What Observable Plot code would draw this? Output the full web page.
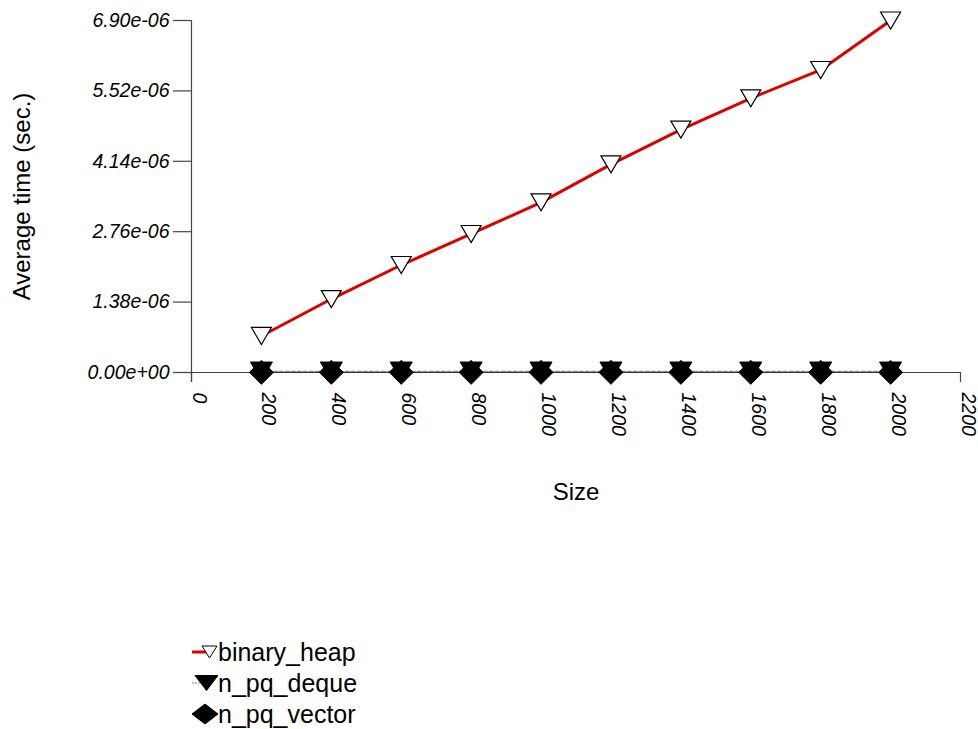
<!DOCTYPE html>
<html>
<head>
<meta charset="utf-8">
<script src="https://cdn.jsdelivr.net/npm/d3@7"></script>
<script src="https://cdn.jsdelivr.net/npm/@observablehq/plot@0.6"></script>
<style>
  html, body { margin: 0; padding: 0; background: #fff; }
  #wrap { position: relative; width: 978px; height: 729px; font-family: "Liberation Sans", Arial, Helvetica, sans-serif; }
  #legend { position: absolute; left: 190px; top: 636px; font-size: 25px; line-height: 32px; color: #000; }
  .item { display: flex; align-items: center; height: 31px; }
  .item svg { display: block; }
</style>
</head>
<body>
<div id="wrap"><div id="chart"></div><div id="legend"></div></div>
<script>
// ---- data ----
const sizes = [200, 400, 600, 800, 1000, 1200, 1400, 1600, 1800, 2000];
const binaryHeap = [0.716e-6, 1.44e-6, 2.107e-6, 2.715e-6, 3.336e-6, 4.081e-6, 4.76e-6, 5.375e-6, 5.93e-6, 6.90e-6];
const nPqDeque = [2.2e-8, 2.2e-8, 2.2e-8, 2.2e-8, 2.2e-8, 2.2e-8, 2.2e-8, 2.2e-8, 2.2e-8, 2.2e-8];
const nPqVector = [0.3e-8, 0.3e-8, 0.3e-8, 0.3e-8, 0.3e-8, 0.3e-8, 0.3e-8, 0.3e-8, 0.3e-8, 0.3e-8];
const xTicks = [0, 200, 400, 600, 800, 1000, 1200, 1400, 1600, 1800, 2000, 2200];
const yTicks = [0, 1.38e-6, 2.76e-6, 4.14e-6, 5.52e-6, 6.90e-6];
const seriesNames = ["binary_heap", "n_pq_deque", "n_pq_vector"];

const rows = (vals) => sizes.map((s, i) => ({size: s, t: vals[i]}));
const heapRows = rows(binaryHeap), dequeRows = rows(nPqDeque), vectorRows = rows(nPqVector);

// custom symbols
const triDown = { draw(ctx, size) { const r = Math.sqrt(size / Math.PI); const w = r, h = r * 0.85;
  ctx.moveTo(-w, -h); ctx.lineTo(w, -h); ctx.lineTo(0, h); ctx.closePath(); } };
const diamondSq = { draw(ctx, size) { const r = Math.sqrt(size / Math.PI);
  ctx.moveTo(0, -r); ctx.lineTo(r, 0); ctx.lineTo(0, r); ctx.lineTo(-r, 0); ctx.closePath(); } };

const fmt = (v) => v.toExponential(2).replace(/e([+-])(\d)$/, (m, s, d) => "e" + s + "0" + d);
const axisColor = "#444";

const chart = Plot.plot({
  width: 978,
  height: 729,
  marginTop: 20,
  marginBottom: 357,
  marginLeft: 191,
  marginRight: 18,
  style: {fontFamily: "'Liberation Sans', Arial, Helvetica, sans-serif", background: "#fff"},
  x: {domain: [0, 2200], axis: null},
  y: {domain: [0, 6.9e-6], axis: null},
  marks: [
    // axes
    Plot.ruleX([0], {y1: 6.9e-6, y2: 0, insetBottom: -10, stroke: axisColor, strokeWidth: 1.2}),
    Plot.ruleY([0], {x1: 0, x2: 2200, stroke: axisColor, strokeWidth: 1.2}),
    Plot.ruleY(yTicks, {y: d => d, x1: 0, x2: 0, insetLeft: -18, stroke: axisColor, strokeWidth: 1.2}),
    Plot.ruleX(xTicks, {x: d => d, y1: 0, y2: 0, insetBottom: -10, stroke: axisColor, strokeWidth: 1.2}),
    Plot.text(yTicks, {x: 0, y: d => d, text: fmt, textAnchor: "end", dx: -22, fontSize: 19.5, fontStyle: "italic", fill: "#000"}),
    Plot.text(xTicks, {x: d => d, y: 0, text: d => String(d), rotate: 90, textAnchor: "start", lineAnchor: "bottom", dy: 20, dx: 1, fontSize: 19.5, fontStyle: "italic", fill: "#000"}),
    Plot.text(["Size"], {frameAnchor: "bottom", text: d => d, textAnchor: "middle", lineAnchor: "middle", dy: 120, fontSize: 24, fill: "#000"}),
    Plot.text(["Average time (sec.)"], {frameAnchor: "left", text: d => d, textAnchor: "middle", lineAnchor: "middle", rotate: -90, dx: -169, fontSize: 24, fill: "#000"}),
    // series
    Plot.line(vectorRows, {x: "size", y: "t", stroke: "#333", strokeWidth: 1.2}),
    Plot.line(dequeRows, {x: "size", y: "t", stroke: "#888", strokeWidth: 1.2, strokeDasharray: "4,2"}),
    Plot.line(heapRows, {x: "size", y: "t", stroke: "#dd0000", strokeWidth: 3}),
    Plot.dot(dequeRows, {x: "size", y: "t", symbol: triDown, r: 11, fill: "#000", stroke: "#000", strokeWidth: 1}),
    Plot.dot(vectorRows, {x: "size", y: "t", symbol: diamondSq, r: 12, fill: "#000", stroke: "#000", strokeWidth: 1}),
    Plot.dot(heapRows, {x: "size", y: "t", symbol: triDown, r: 10, fill: "#fff", stroke: "#000", strokeWidth: 1.2})
  ]
});
document.getElementById("chart").appendChild(chart);

// legend
const legendSpec = [
  {name: seriesNames[0], line: "#dd0000", lw: 3, dash: null, shape: "tri", fill: "#fff", cx: 19.5, w: 7.5, h: 6},
  {name: seriesNames[1], line: "#888", lw: 1, dash: "2,1", shape: "tri", fill: "#000", cx: 16.5, w: 11.5, h: 7.5},
  {name: seriesNames[2], line: "#333", lw: 1, dash: null, shape: "dia", fill: "#000", cx: 15, w: 13, h: 10}
];
const legend = document.getElementById("legend");
for (const s of legendSpec) {
  const item = document.createElement("div");
  item.className = "item";
  const ns = "http://www.w3.org/2000/svg";
  const svg = document.createElementNS(ns, "svg");
  svg.setAttribute("width", 28); svg.setAttribute("height", 26);
  const ln = document.createElementNS(ns, "line");
  ln.setAttribute("x1", 2); ln.setAttribute("x2", 16); ln.setAttribute("y1", 13); ln.setAttribute("y2", 13);
  ln.setAttribute("stroke", s.line); ln.setAttribute("stroke-width", s.lw);
  if (s.dash) ln.setAttribute("stroke-dasharray", s.dash);
  svg.appendChild(ln);
  const p = document.createElementNS(ns, "path");
  const cx = s.cx, cy = 13;
  p.setAttribute("d", s.shape === "tri"
    ? `M${cx-s.w},${cy-s.h}L${cx+s.w},${cy-s.h}L${cx},${cy+s.h}Z`
    : `M${cx-s.w},${cy}L${cx},${cy-s.h}L${cx+s.w},${cy}L${cx},${cy+s.h}Z`);
  p.setAttribute("fill", s.fill); p.setAttribute("stroke", "#000"); p.setAttribute("stroke-width", 1);
  svg.appendChild(p);
  item.appendChild(svg);
  const t = document.createElement("span");
  t.textContent = s.name;
  item.appendChild(t);
  legend.appendChild(item);
}
</script>
</body>
</html>
